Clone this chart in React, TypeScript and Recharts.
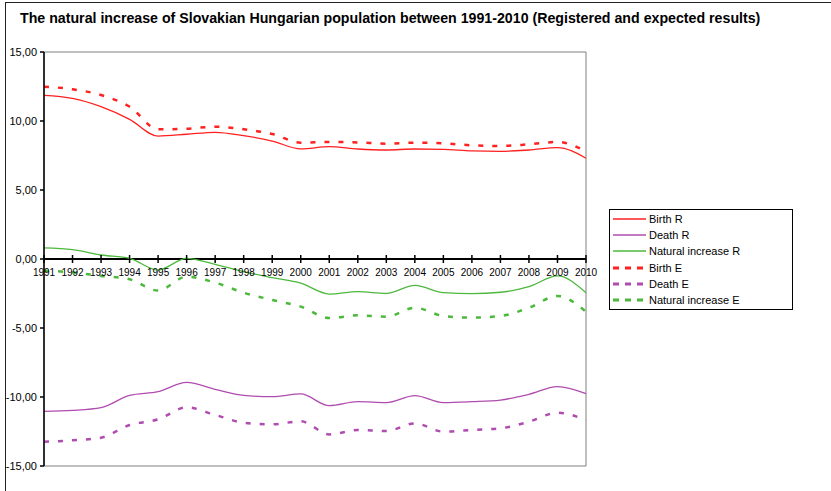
import { LineChart, Line, XAxis, YAxis, ReferenceLine, ReferenceArea } from "recharts";

const years = [1991, 1992, 1993, 1994, 1995, 1996, 1997, 1998, 1999, 2000, 2001, 2002, 2003, 2004, 2005, 2006, 2007, 2008, 2009, 2010];

// registered
const birthR = [11.86, 11.64, 11.04, 10.12, 8.91, 9.04, 9.18, 8.94, 8.55, 7.98, 8.14, 7.97, 7.9, 7.97, 7.95, 7.83, 7.8, 7.9, 8.07, 7.3];
const deathR = [-11.04, -10.97, -10.77, -9.88, -9.61, -8.94, -9.44, -9.88, -9.98, -9.78, -10.63, -10.34, -10.41, -9.9, -10.41, -10.34, -10.22, -9.81, -9.25, -9.76];
const naturalR = [0.8, 0.68, 0.29, 0.05, -0.8, 0.05, -0.39, -0.92, -1.35, -1.75, -2.54, -2.37, -2.49, -1.91, -2.44, -2.51, -2.41, -2.0, -1.23, -2.44];

// expected
const birthE = [12.49, 12.3, 11.88, 11.04, 9.4, 9.44, 9.59, 9.4, 9.06, 8.43, 8.48, 8.45, 8.36, 8.43, 8.38, 8.24, 8.19, 8.31, 8.48, 7.8];
const deathE = [-13.24, -13.14, -12.95, -12.03, -11.62, -10.75, -11.3, -11.86, -11.98, -11.76, -12.71, -12.39, -12.46, -11.91, -12.51, -12.39, -12.27, -11.79, -11.14, -11.67];
const naturalE = [-0.85, -0.97, -1.23, -1.47, -2.29, -1.28, -1.71, -2.44, -2.97, -3.45, -4.28, -4.08, -4.18, -3.53, -4.13, -4.25, -4.13, -3.53, -2.68, -3.82];

const yTicks = [15, 10, 5, 0, -5, -10, -15];

const SERIES = [
  { key: "birthR", name: "Birth R", color: "#ff2020", dashed: false },
  { key: "deathR", name: "Death R", color: "#b04cb0", dashed: false },
  { key: "naturalR", name: "Natural increase R", color: "#4cb83c", dashed: false },
  { key: "birthE", name: "Birth E", color: "#ff2020", dashed: true },
  { key: "deathE", name: "Death E", color: "#b04cb0", dashed: true },
  { key: "naturalE", name: "Natural increase E", color: "#4cb83c", dashed: true },
];

const data = years.map((year, i) => ({
  year,
  birthR: birthR[i],
  deathR: deathR[i],
  naturalR: naturalR[i],
  birthE: birthE[i],
  deathE: deathE[i],
  naturalE: naturalE[i],
}));

const W = 831;
const H = 491;
const X_AXIS_H = 25;
const MARGIN = { top: 52, right: 245, bottom: 0, left: 0 };
const PLOT_H = H - MARGIN.top - MARGIN.bottom - X_AXIS_H;
const ZERO_Y = MARGIN.top + PLOT_H / 2; // domain is symmetric [-15, 15]

const FONT = "'Liberation Sans', Arial, sans-serif";

function YearTick(props: any) {
  const { x, payload } = props;
  return (
    <g>
      <line x1={x} x2={x} y1={ZERO_Y - 4} y2={ZERO_Y + 4} stroke="#000" strokeWidth={1.5} />
      <text x={x} y={ZERO_Y + 17} textAnchor="middle" fontSize={10} fill="#000" fontFamily={FONT}>
        {payload.value}
      </text>
    </g>
  );
}

function ChartLegend() {
  return (
    <div
      style={{
        position: "absolute",
        left: 609,
        top: 209,
        width: 182,
        border: "1px solid #000",
        background: "#fff",
        fontFamily: FONT,
        fontSize: 11,
        padding: "1px 0",
      }}
    >
      {SERIES.map((s) => (
        <div key={s.key} style={{ display: "flex", alignItems: "center", height: 16.2, paddingLeft: 3 }}>
          <svg width={33} height={6} style={{ marginRight: 3 }}>
            <line
              x1={0}
              x2={33}
              y1={3}
              y2={3}
              stroke={s.color}
              strokeWidth={s.dashed ? 3 : 1.3}
              strokeDasharray={s.dashed ? "6 6" : undefined}
            />
          </svg>
          <span>{s.name}</span>
        </div>
      ))}
    </div>
  );
}

export default function App() {
  return (
    <div style={{ position: "absolute", left: 0, top: 0, width: W, height: H, overflow: "hidden", background: "#fff" }}>
      <div
        style={{
          position: "absolute",
          left: 5,
          top: 2,
          width: W + 50,
          height: H + 50,
          border: "1px solid #222",
        }}
      />
      <div
        style={{
          position: "absolute",
          left: 20,
          top: 10,
          fontFamily: FONT,
          fontWeight: "bold",
          fontSize: 14.2,
          lineHeight: "16px",
          whiteSpace: "nowrap",
        }}
      >
        The natural increase of Slovakian Hungarian population between 1991-2010 (Registered and expected results)
      </div>
      <div style={{ position: "absolute", left: 0, top: 0 }}>
        <LineChart width={W} height={H} data={data} margin={MARGIN} style={{ fontFamily: FONT }}>
          <ReferenceArea x1={1991} x2={2010} y1={-15} y2={15} fill="none" stroke="#808080" strokeWidth={1} ifOverflow="visible" />
          <XAxis dataKey="year" height={X_AXIS_H} axisLine={false} tickLine={false} tick={YearTick} interval={0} />
          <YAxis
            domain={[-15, 15]}
            ticks={yTicks}
            width={44}
            interval={0}
            tickFormatter={(v: number) => v.toFixed(2).replace(".", ",")}
            tick={{ fontSize: 11, fill: "#000" }}
            axisLine={{ stroke: "#000", strokeWidth: 1.5 }}
            tickLine={{ stroke: "#000", strokeWidth: 1.5 }}
            tickSize={4}
            tickMargin={3}
          />
          <ReferenceLine y={0} stroke="#000" strokeWidth={2} />
          {SERIES.map((s) => (
            <Line
              key={s.key}
              dataKey={s.key}
              name={s.name}
              type="monotone"
              stroke={s.color}
              strokeWidth={s.dashed ? 2.5 : 1.3}
              strokeDasharray={s.dashed ? "5 9" : undefined}
              dot={false}
              isAnimationActive={false}
            />
          ))}
        </LineChart>
      </div>
      <ChartLegend />
    </div>
  );
}
